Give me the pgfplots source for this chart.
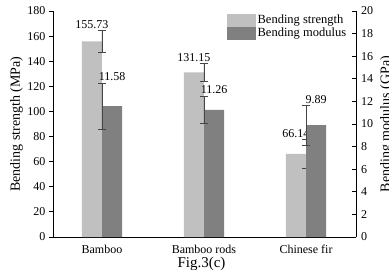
\documentclass[border=0pt]{standalone}
\usepackage{pgfplots}
\pgfplotsset{compat=1.18}
\usepackage{pgfplotstable}
\usepackage{fontspec}
\setmainfont{Liberation Serif}
\definecolor{lightg}{RGB}{192,192,192}
\definecolor{darkg}{RGB}{128,128,128}
\definecolor{errg}{RGB}{70,70,70}
\pgfplotstableread{
x y e lab
0 155.73 8.7 155.73
1 131.15 6.8 131.15
2 66.14 11.5 66.14
}\strength
\pgfplotstableread{
x y e lab
0 11.58 2.05 11.58
1 11.26 1.2 11.26
2 9.89 1.74 9.89
}\modulus
\begin{document}
\begin{tikzpicture}
\pgfplotsset{
  common/.style={
    scale only axis, width=303pt, height=226pt,
    xmin=-0.48, xmax=2.49, ymin=0,
    axis line style={line width=0.8pt, black},
    /pgf/number format/assume math mode=true,
    tick label style={font=\fontsize{12}{14}\selectfont},
    every node near coord/.style={font=\fontsize{12}{14}\selectfont, anchor=south, inner sep=1pt, yshift=1pt, black},
    error bars/error bar style={line width=0.6pt, errg},
    error bars/error mark options={rotate=90, mark size=4pt, line width=0.6pt, errg},
  }
}
\begin{axis}[common,
  ymax=180, ytick={0,20,...,180},
  axis x line*=bottom, axis y line*=left,
  y tick style={black, line width=0.8pt}, tickwidth=4pt,
  ytick pos=left, yticklabel pos=left,
  xtick={0,1,2}, xticklabels={Bamboo, Bamboo rods, Chinese fir},
  x tick style={draw=none},
  xticklabel style={yshift=-1pt, font=\rmfamily\fontsize{12}{14}\selectfont},
  xlabel={Fig.3(c)},
  xlabel style={at={(axis description cs:0.49,0)}, anchor=north, yshift=-19.5pt, inner sep=0pt, font=\fontsize{15}{17}\selectfont},
  ylabel={Bending strength (MPa)},
  ylabel style={at={(axis description cs:0,0.5)}, anchor=south, yshift=30pt, inner sep=0pt, font=\fontsize{14}{16}\selectfont},
  y axis line style={-}, x axis line style={-},
  tick align=outside,
]
\addplot[ybar, bar width=0.196, bar shift=-0.1, fill=lightg, draw=none,
  error bars/.cd, y dir=both, y explicit]
  table[x=x, y=y, y error=e] {\strength};
\addplot[draw=none, mark=none, nodes near coords, point meta=explicit symbolic]
  table[x expr=\thisrow{x}-0.1, y expr=\thisrow{y}+\thisrow{e}, meta=lab] {\strength};
\end{axis}
\begin{axis}[common,
  ymax=20, ytick={0,2,...,20},
  axis x line=none, axis y line*=right,
  y axis line style={-},
  tick align=inside, tickwidth=4pt,
  y tick style={black, line width=0.8pt},
  y tick label style={xshift=1.5pt},
  ylabel={Bending modulus (GPa)},
  ylabel style={at={(axis description cs:1,0.5)}, anchor=north, yshift=-24pt, inner sep=0pt, font=\fontsize{14}{16}\selectfont},
  legend style={at={(axis description cs:0.574,0.99)}, anchor=north west, draw=none, fill=none,
    font=\fontsize{12.5}{15}\selectfont, row sep=0pt, inner sep=0pt,
    nodes={inner sep=1.5pt}},
  legend cell align=left,
  legend image code/.code={\fill[#1] (0pt,-6.5pt) rectangle (29pt,6.5pt);},
]
\addlegendimage{fill=lightg, draw=none}
\addlegendentry{Bending strength}
\addplot[ybar, bar width=0.196, bar shift=0.1, fill=darkg, draw=none,
  error bars/.cd, y dir=both, y explicit]
  table[x=x, y=y, y error=e] {\modulus};
\addlegendentry{Bending modulus}
\addplot[draw=none, mark=none, nodes near coords, point meta=explicit symbolic, forget plot]
  table[x expr=\thisrow{x}+0.1, y expr=\thisrow{y}+\thisrow{e}, meta=lab] {\modulus};
\end{axis}
\pgfresetboundingbox
\path[use as bounding box] (-53pt,-32pt) rectangle (336pt,237pt);
\end{tikzpicture}
\end{document}
